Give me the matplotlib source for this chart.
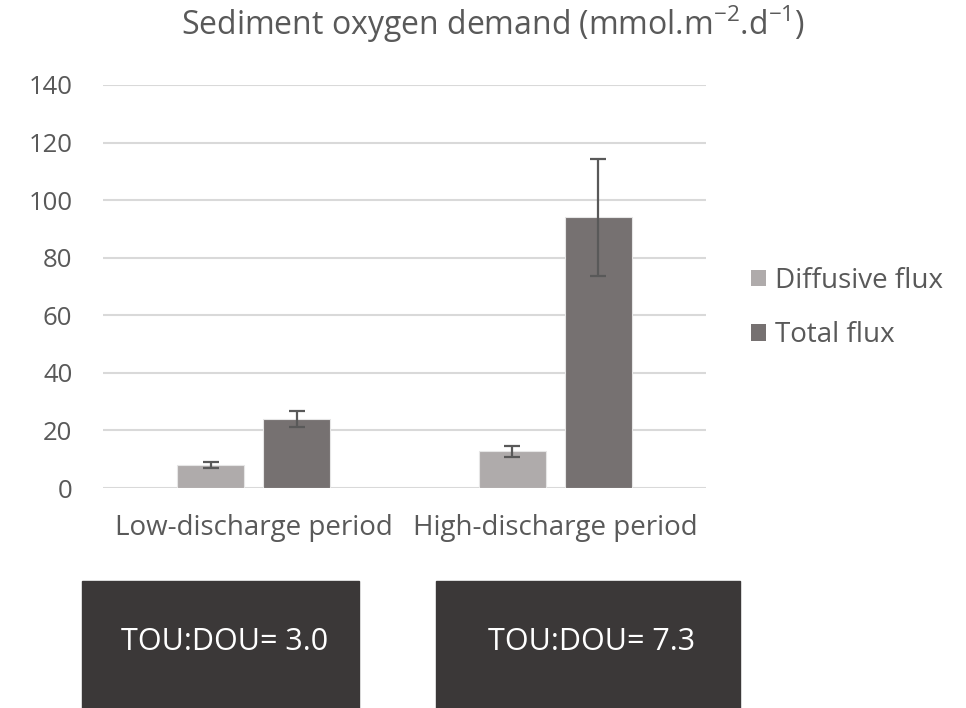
import numpy as np
import matplotlib.pyplot as plt
from matplotlib.patches import Rectangle

plt.rcParams['font.family'] = ['Open Sans', 'DejaVu Sans']

categories = ["Low-discharge period", "High-discharge period"]
series_names = ["Diffusive flux", "Total flux"]
diffusive = [8.0, 12.8]
diffusive_err = [1.2, 1.9]
total = [23.9, 94.0]
total_err = [2.8, 20.3]
ratio_labels = ["TOU:DOU= 3.0", "TOU:DOU= 7.3"]

txt = '#595959'
c_light = '#AFABAB'
c_dark = '#767171'

W, H = 966, 708
fig = plt.figure(figsize=(W / 100, H / 100), dpi=100)
ax = fig.add_axes([103 / W, (H - 488) / H, (706 - 103) / W, (488 - 85) / H])

x = np.arange(len(categories))
bw = 0.222
off = (bw + 0.063) / 2
ekw = dict(ecolor='#595959', elinewidth=1.6, capsize=6, capthick=1.6)
ax.bar(x - off, diffusive, bw, yerr=diffusive_err, color=c_light, edgecolor='#E6E6E6',
       linewidth=0.8, label=series_names[0], error_kw=ekw, zorder=3)
ax.bar(x + off, total, bw, yerr=total_err, color=c_dark, edgecolor='#E6E6E6',
       linewidth=0.8, label=series_names[1], error_kw=ekw, zorder=3)

ax.set_xlim(-0.5, 1.5)
ax.set_ylim(0, 140)
ax.set_yticks(range(0, 141, 20))
ax.set_xticks(x)
ax.set_xticklabels(categories, fontsize=20)
ax.grid(axis='y', color='#D9D9D9', linewidth=1.5, zorder=0)
for s in ax.spines.values():
    s.set_visible(False)
ax.tick_params(length=0, labelcolor=txt)
ax.tick_params(axis='y', pad=22, labelsize=18.5)
ax.tick_params(axis='x', pad=19)

fig.text(493 / W, 1 - 24 / H, r'Sediment oxygen demand (mmol.m$^{\mathregular{-2}}$.d$^{\mathregular{-1}}$)',
         ha='center', va='center', fontsize=23, color=txt)

leg = fig.legend(loc='center left', bbox_to_anchor=(726 / W, 1 - 308 / H), frameon=False,
                 fontsize=20, labelcolor=txt, handlelength=0.55, handleheight=0.55,
                 handletextpad=0.3, labelspacing=0.95)
for p in leg.get_patches():
    p.set_edgecolor('none')

boxes = [(82, 359), (436, 740)]
for (x0, x1), lab in zip(boxes, ratio_labels):
    fig.patches.append(Rectangle((x0 / W, 0), (x1 - x0) / W, (H - 581) / H,
                                 transform=fig.transFigure, color='#3B3838', zorder=0))
    fig.text((x0 + x1) / 2 / W + 4 / W, (H - 642) / H, lab, ha='center', va='center',
             fontsize=22, color='white')

fig.savefig('out.png', dpi=100)
